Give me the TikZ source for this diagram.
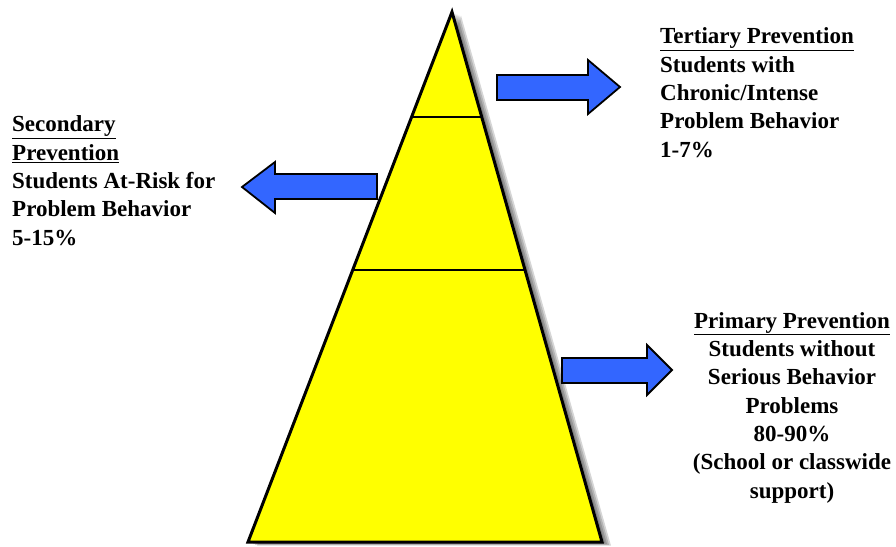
\documentclass[tikz,border=0pt]{standalone}
\usepackage{fontspec}
\setmainfont{Liberation Serif}
\definecolor{pyryellow}{RGB}{255, 255, 0}
\definecolor{arrowblue}{RGB}{51, 102, 255}
\usetikzlibrary{calc}
\tikzset{
  blockarrow/.style={draw=black, line width=1.8pt, fill=arrowblue, line join=miter},
  tierlabel/.style={font=\fontsize{23}{28.3}\selectfont\bfseries, inner sep=0pt}
}

\begin{document}
\begin{tikzpicture}[x=1pt, y=-1pt]
  \useasboundingbox (0,0) rectangle (896,546);

  % Pyramid
  \coordinate (apex) at (452, 12);
  \coordinate (bl) at (248, 542);
  \coordinate (br) at (602, 542);
  \foreach \s in {9,7,5,3}
    \fill[black, opacity=0.16] ($(apex)+(\s,0.4*\s)$) -- ($(br)+(\s,0.4*\s)$) -- ($(bl)+(\s,0.4*\s)$) -- cycle;
  \draw[line width=3pt, fill=pyryellow, line join=miter] (apex) -- (br) -- (bl) -- cycle;
  \draw[line width=2pt] ($(apex)!0.198!(bl)$) -- ($(apex)!0.198!(br)$);
  \draw[line width=2pt] ($(apex)!0.487!(bl)$) -- ($(apex)!0.487!(br)$);

  % Arrows
  \draw[blockarrow] (497,75) -- (588,75) -- (588,60) -- (620,87) -- (588,114) -- (588,100) -- (497,100) -- cycle;
  \draw[blockarrow] (377,174) -- (275,174) -- (275,162) -- (242,187) -- (275,213) -- (275,199) -- (377,199) -- cycle;
  \draw[blockarrow] (562,358) -- (647,358) -- (647,345) -- (672,370) -- (647,395) -- (647,383) -- (562,383) -- cycle;

  % Tier labels (anchored at the last baseline)
  \node[tierlabel, align=left, anchor=base west] (tertiary) at (660, 157) {
    \underline{Tertiary Prevention}\\
    Students with\\
    Chronic/Intense\\
    Problem Behavior\\
    1-7\%};

  \node[tierlabel, align=left, anchor=base west] (secondary) at (12, 245) {
    \underline{Secondary}\\
    \underline{Prevention}\\
    Students At-Risk for\\
    Problem Behavior\\
    5-15\%};

  \node[tierlabel, align=center, anchor=base] (primary) at (792, 498) {
    \underline{Primary Prevention}\\
    Students without\\
    Serious Behavior\\
    Problems\\
    80-90\%\\
    (School or classwide\\
    support)};
\end{tikzpicture}
\end{document}
